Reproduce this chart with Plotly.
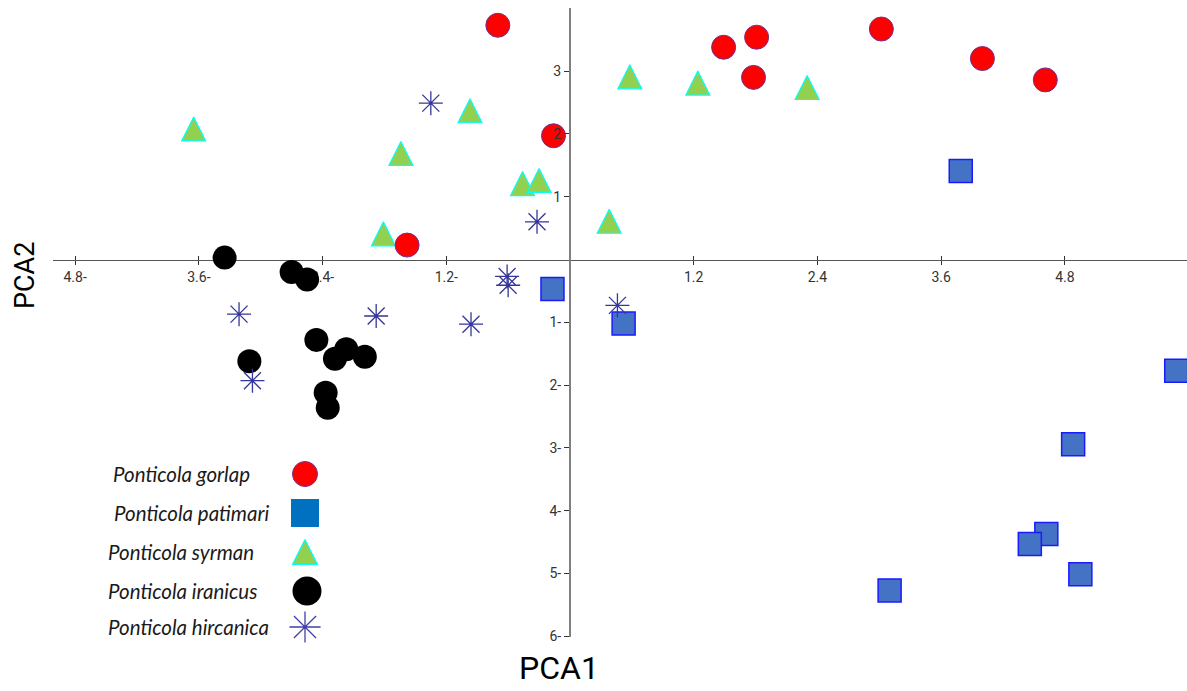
import plotly.graph_objects as go

# ---------------- data (PCA scores) ----------------
species = ["Ponticola gorlap", "Ponticola patimari", "Ponticola syrman",
           "Ponticola iranicus", "Ponticola hircanica"]

gorlap_x = [-0.70, 1.49, 1.81, 1.78, 3.02, 4.00, 4.61, -0.16, -1.58]
gorlap_y = [3.73, 3.38, 3.54, 2.90, 3.67, 3.20, 2.86, 1.97, 0.23]

patimari_x = [3.79, -0.17, 0.52, 5.88, 4.88, 4.62, 4.46, 4.95, 3.10]
patimari_y = [1.41, -0.47, -1.02, -1.77, -2.94, -4.37, -4.53, -5.01, -5.27]

# triangle markers are anchored at their apex
syrman_x = [-3.65, -0.97, -1.64, 0.58, 1.24, 2.30, -0.46, -0.30, 0.38, -1.81]
syrman_y = [2.27, 2.56, 1.88, 3.10, 3.00, 2.93, 1.40, 1.45, 0.80, 0.60]

iranicus_x = [-3.35, -2.70, -2.55, -2.46, -2.17, -2.28, -1.99, -3.11, -2.37, -2.35]
iranicus_y = [0.03, -0.20, -0.32, -1.28, -1.43, -1.58, -1.55, -1.62, -2.12, -2.36]

hircanica_x = [-1.35, -0.32, -0.61, -0.60, -3.21, -1.88, -0.96, 0.46, -3.08]
hircanica_y = [2.49, 0.60, -0.27, -0.41, -0.87, -0.90, -1.03, -0.73, -1.93]

x_tickvals = [-4.8, -3.6, -2.4, -1.2, 1.2, 2.4, 3.6, 4.8]
x_ticktext = ["4.8-", "3.6-", "2.4-", "1.2-", "1.2", "2.4", "3.6", "4.8"]
y_tickvals = [3, 2, 1, -1, -2, -3, -4, -5, -6]
y_ticktext = ["3", "2", "1", "1-", "2-", "3-", "4-", "5-", "6-"]

# ---------------- layout geometry ----------------
W, H = 1187, 691
X0_PX, Y0_PX = 570.0, 259.5          # where the axes cross
PX_PER_X, PX_PER_Y = 103.1, 62.8
LEFT_PX, TOP_PX, BOTTOM_PX = 53.0, 8.3, 637.0

x_range = [(LEFT_PX - X0_PX) / PX_PER_X, (W - X0_PX) / PX_PER_X]
y_range = [-(BOTTOM_PX - Y0_PX) / PX_PER_Y, (Y0_PX - TOP_PX) / PX_PER_Y]

NARROW = "Liberation Sans Narrow, Arial Narrow, Roboto, sans-serif"

styles = [
    dict(symbol="circle", color="#FF0000", line=dict(color="#7A2C8C", width=1), size=24),
    dict(symbol="square", color="#4472C4", line=dict(color="#1A1AFF", width=1.5), size=23),
    dict(symbol="arrow-up", color="#92D050", line=dict(color="#00FFFF", width=1.2), size=24),
    dict(symbol="circle", color="#000000", line=dict(color="#000000", width=0), size=24),
    dict(symbol="asterisk", color="#35359A", line=dict(color="#35359A", width=1.3), size=20),
]

data = [
    (syrman_x, syrman_y, 2),
    (patimari_x, patimari_y, 1),
    (gorlap_x, gorlap_y, 0),
    (iranicus_x, iranicus_y, 3),
    (hircanica_x, hircanica_y, 4),
]

fig = go.Figure()
for xs, ys, i in data:
    fig.add_trace(go.Scatter(
        x=xs, y=ys, mode="markers", name=species[i], showlegend=False,
        cliponaxis=False, hoverinfo="skip",
        marker=styles[i],
        xaxis="x", yaxis="y",
    ))

# ---------------- custom legend (text left, key right) ----------------
leg_rows_px = [474, 513, 552, 591, 627]
leg_text_x_px = [111, 112, 106, 106, 106]
leg_key_x_px = [305, 305, 305, 307, 305]
leg_styles = [
    dict(symbol="circle", color="#FF0000", line=dict(color="#7A2C8C", width=1), size=25),
    dict(symbol="square", color="#0070C0", line=dict(color="#0070C0", width=0), size=28),
    dict(symbol="arrow-up", color="#92D050", line=dict(color="#00FFFF", width=1.2), size=25),
    dict(symbol="circle", color="#000000", line=dict(color="#000000", width=0), size=29),
    dict(symbol="asterisk", color="#4040A8", line=dict(color="#4040A8", width=1.3), size=26),
]
for i in range(5):
    ky = leg_rows_px[i] - (leg_styles[i]["size"] / 2 if leg_styles[i]["symbol"] == "arrow-up" else 0)
    fig.add_trace(go.Scatter(
        x=[leg_key_x_px[i]], y=[ky], mode="markers", showlegend=False,
        cliponaxis=False, hoverinfo="skip", marker=leg_styles[i],
        xaxis="x2", yaxis="y2",
    ))
    fig.add_annotation(
        x=leg_text_x_px[i], y=leg_rows_px[i], xref="x2", yref="y2",
        text=f"<i>{species[i]}</i>", showarrow=False,
        xanchor="left", yanchor="middle",
        font=dict(family="Lato, Open Sans, sans-serif", size=20.5, color="#1a1a1a"),
    )

# axis titles
fig.add_annotation(x=559, y=668, xref="x2", yref="y2", text="PCA1", showarrow=False,
                   xanchor="center", yanchor="middle",
                   font=dict(family=NARROW, size=32, color="#000000"))
fig.add_annotation(x=25, y=276, xref="x2", yref="y2", text="PCA2", showarrow=False,
                   textangle=-90, xanchor="center", yanchor="middle",
                   font=dict(family=NARROW, size=27, color="#000000"))

fig.update_layout(
    width=W, height=H, autosize=False,
    margin=dict(l=0, r=0, t=0, b=0, pad=0, autoexpand=False),
    paper_bgcolor="white", plot_bgcolor="rgba(0,0,0,0)",
    showlegend=False,
    xaxis=dict(
        domain=[LEFT_PX / W, 1.0], range=x_range, anchor="free",
        position=1 - Y0_PX / H,
        showgrid=False, zeroline=False,
        showline=True, linecolor="#555555", linewidth=1.5,
        tickmode="array", tickvals=x_tickvals, ticktext=x_ticktext,
        ticks="outside", ticklen=4, tickcolor="#333333", tickwidth=1,
        minor=dict(tickmode="array", tickvals=x_tickvals, ticks="inside",
                   ticklen=4, tickcolor="#333333", tickwidth=1, showgrid=False),
        tickfont=dict(family=NARROW, size=14, color="#333333"),
        layer="below traces", fixedrange=True, automargin=False,
    ),
    yaxis=dict(
        domain=[1 - BOTTOM_PX / H, 1 - TOP_PX / H], range=y_range, anchor="free",
        position=X0_PX / W,
        showgrid=False, zeroline=False,
        showline=True, linecolor="#808080", linewidth=2,
        tickmode="array", tickvals=y_tickvals, ticktext=y_ticktext,
        ticks="outside", ticklen=5, tickcolor="#333333", tickwidth=1,
        tickfont=dict(family=NARROW, size=14, color="#333333"),
        layer="above traces", fixedrange=True, automargin=False,
    ),
    xaxis2=dict(domain=[0, 1], range=[0, W], anchor="y2", visible=False, fixedrange=True),
    yaxis2=dict(domain=[0, 1], range=[H, 0], anchor="x2", visible=False, fixedrange=True),
)

fig.write_html(
    "out.html",
    config={"responsive": False, "displayModeBar": False, "staticPlot": True},
    post_script="document.body.style.margin='0';document.body.style.padding='0';"
                "document.documentElement.style.overflow='hidden';",
)
